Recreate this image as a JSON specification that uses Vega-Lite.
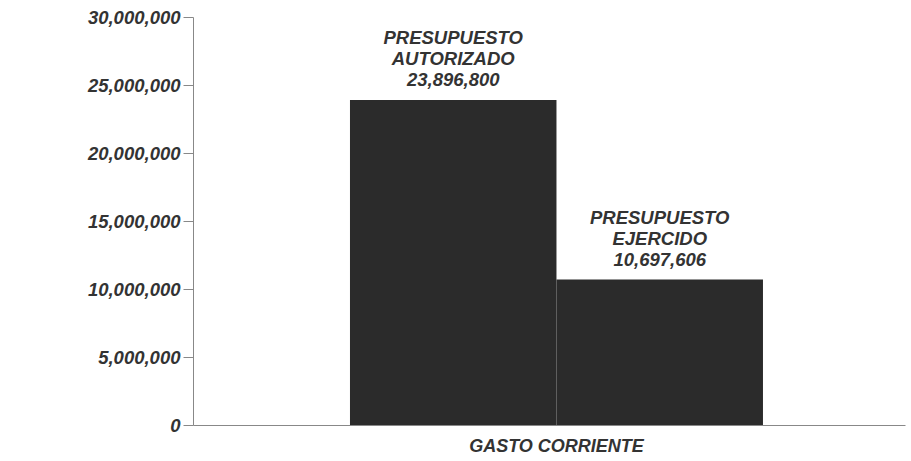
{
  "$schema": "https://vega.github.io/schema/vega-lite/v6.json",
  "width": 712,
  "height": 408,
  "autosize": {"type": "none"},
  "padding": {"left": 193, "top": 17, "right": 6, "bottom": 36},
  "background": "white",
  "config": {"view": {"stroke": null}, "font": "Liberation Sans"},
  "data": {
    "values": [
      {"grupo": "GASTO CORRIENTE", "concepto": "PRESUPUESTO AUTORIZADO", "monto": 23896800, "etiqueta": "PRESUPUESTO\nAUTORIZADO\n23,896,800"},
      {"grupo": "GASTO CORRIENTE", "concepto": "PRESUPUESTO EJERCIDO", "monto": 10697606, "etiqueta": "PRESUPUESTO\nEJERCIDO\n10,697,606"}
    ]
  },
  "encoding": {
    "x": {
      "field": "grupo", "type": "nominal",
      "scale": {"paddingInner": 0, "paddingOuter": 0.362, "align": 0.525},
      "axis": {"title": null, "labelAngle": 0, "ticks": false, "labelFontSize": 18, "labelFontStyle": "italic", "labelFontWeight": "bold", "labelColor": "#333333", "labelPadding": 12, "domainColor": "#888"}
    },
    "xOffset": {"field": "concepto", "type": "nominal", "sort": null, "scale": {"paddingInner": 0, "paddingOuter": 0}},
    "y": {
      "field": "monto", "type": "quantitative",
      "scale": {"domain": [0, 30000000]},
      "axis": {"title": null, "grid": false, "values": [0, 5000000, 10000000, 15000000, 20000000, 25000000, 30000000], "format": ",d", "labelFontSize": 18.5, "labelFontStyle": "italic", "labelFontWeight": "bold", "labelColor": "#333333", "labelPadding": 3, "tickSize": 10, "tickColor": "#888", "domainColor": "#888"}
    }
  },
  "layer": [
    {"mark": {"type": "bar", "color": "#2b2b2b"}},
    {
      "mark": {"type": "text", "baseline": "bottom", "dy": -52, "lineBreak": "\n", "fontSize": 18.5, "fontStyle": "italic", "fontWeight": "bold", "lineHeight": 21, "color": "#333333"},
      "encoding": {"text": {"field": "etiqueta"}}
    }
  ]
}
